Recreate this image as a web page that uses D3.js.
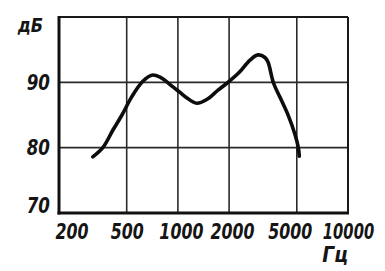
<!DOCTYPE html>
<html>
<head>
<meta charset="utf-8">
<script src="https://cdn.jsdelivr.net/npm/d3@7"></script>
<style>
  body { margin: 0; background: #fff; }
  svg text { font-family: "DejaVu Sans", sans-serif; font-weight: bold; font-style: italic; fill: #151515; }
</style>
</head>
<body>
<div id="chart"></div>
<script>
// frequency response
const freqs = [316, 364, 415, 469, 537, 624, 702, 785, 936, 1029, 1131, 1290, 1483, 1721, 1970, 2287, 2654, 2958, 3250, 3386, 3648, 3985, 4458, 4880, 5104, 5173];
const levels = [78.6, 80.1, 82.7, 85.0, 87.85, 90.2, 91.1, 90.8, 89.3, 88.45, 87.6, 86.8, 87.4, 88.8, 90.0, 91.5, 93.4, 94.2, 93.8, 93.1, 89.9, 87.7, 84.9, 82.0, 80.0, 78.7];

const xTicks = [200, 500, 1000, 2000, 5000, 10000];
const yTicks = [70, 80, 90];
const yUnit = "дБ";
const xUnit = "Гц";

const width = 385, height = 271;
const margin = { top: 17, right: 37, bottom: 58, left: 59 };
const w = width - margin.left - margin.right;
const h = height - margin.top - margin.bottom;

const svg = d3.select("#chart")
    .append("svg")
    .attr("width", width)
    .attr("height", height);

const g = svg.append("g")
    .attr("transform", `translate(${margin.left},${margin.top})`);

const x = d3.scaleLog().domain([200, 10000]).range([0, w]);
const y = d3.scaleLinear().domain([70, 100]).range([h, 0]);

// grid
g.selectAll(".vgrid")
    .data(xTicks.slice(1, -1))
    .enter()
    .append("line")
    .attr("x1", d => x(d)).attr("x2", d => x(d))
    .attr("y1", 0).attr("y2", h)
    .attr("stroke", "#2a2a2a")
    .attr("stroke-width", 1.6);

g.selectAll(".hgrid")
    .data([80, 90])
    .enter()
    .append("line")
    .attr("x1", 0).attr("x2", w)
    .attr("y1", d => y(d)).attr("y2", d => y(d))
    .attr("stroke", "#2a2a2a")
    .attr("stroke-width", 1.6);

// frame
g.append("line").attr("x1", 0).attr("x2", w).attr("y1", 0).attr("y2", 0)
    .attr("stroke", "#1a1a1a").attr("stroke-width", 2.2);
g.append("line").attr("x1", w).attr("x2", w).attr("y1", 0).attr("y2", h)
    .attr("stroke", "#1a1a1a").attr("stroke-width", 2);
g.append("line").attr("x1", 0).attr("x2", 0).attr("y1", -1).attr("y2", h + 1.5)
    .attr("stroke", "#111").attr("stroke-width", 3);
g.append("line").attr("x1", -1.5).attr("x2", w + 1).attr("y1", h).attr("y2", h)
    .attr("stroke", "#111").attr("stroke-width", 3);

// axes (labels only), squeezed horizontally like the narrow lettering of the original
const squeeze = 0.72;
const xShift = { 200: -4, 1000: 3, 2000: 3, 5000: -7 };

const xAxis = g.append("g")
    .attr("transform", `translate(0,${h})`)
    .call(d3.axisBottom(x).tickValues(xTicks).tickFormat(d3.format("d")).tickSize(0).tickPadding(10));
xAxis.select(".domain").remove();
xAxis.selectAll("text")
    .attr("font-size", 22)
    .attr("fill", "#151515")
    .attr("transform", d => `translate(${xShift[d] || 0},0) scale(${d === 10000 ? 0.67 : squeeze},1)`);
xAxis.selectAll(".tick").filter(d => d === 200).select("text")
    .attr("text-anchor", "start");

const yAxis = g.append("g")
    .call(d3.axisLeft(y).tickValues(yTicks).tickSize(0).tickPadding(9));
yAxis.select(".domain").remove();
yAxis.selectAll("text")
    .attr("font-size", 22)
    .attr("fill", "#151515")
    .attr("x", 0)
    .attr("transform", "translate(-9,0) scale(0.76,1)");
yAxis.selectAll(".tick").filter(d => d === 70).select("text")
    .attr("dy", "-0.02em");

g.append("text")
    .attr("transform", `translate(-16,${y(100) + 15}) scale(0.85,1)`)
    .attr("text-anchor", "end")
    .attr("font-size", 19)
    .text(yUnit);

g.append("text")
    .attr("transform", `translate(${x(10000)},${h + 49}) scale(0.85,1)`)
    .attr("text-anchor", "end")
    .attr("font-size", 22)
    .text(xUnit);

// response curve
const line = d3.line()
    .x((d, i) => x(freqs[i]))
    .y(d => y(d))
    .curve(d3.curveCatmullRom.alpha(0.5));

g.append("path")
    .datum(levels)
    .attr("fill", "none")
    .attr("stroke", "#0d0d0d")
    .attr("stroke-width", 3.6)
    .attr("stroke-linecap", "round")
    .attr("stroke-linejoin", "round")
    .attr("d", line);
</script>
</body>
</html>
